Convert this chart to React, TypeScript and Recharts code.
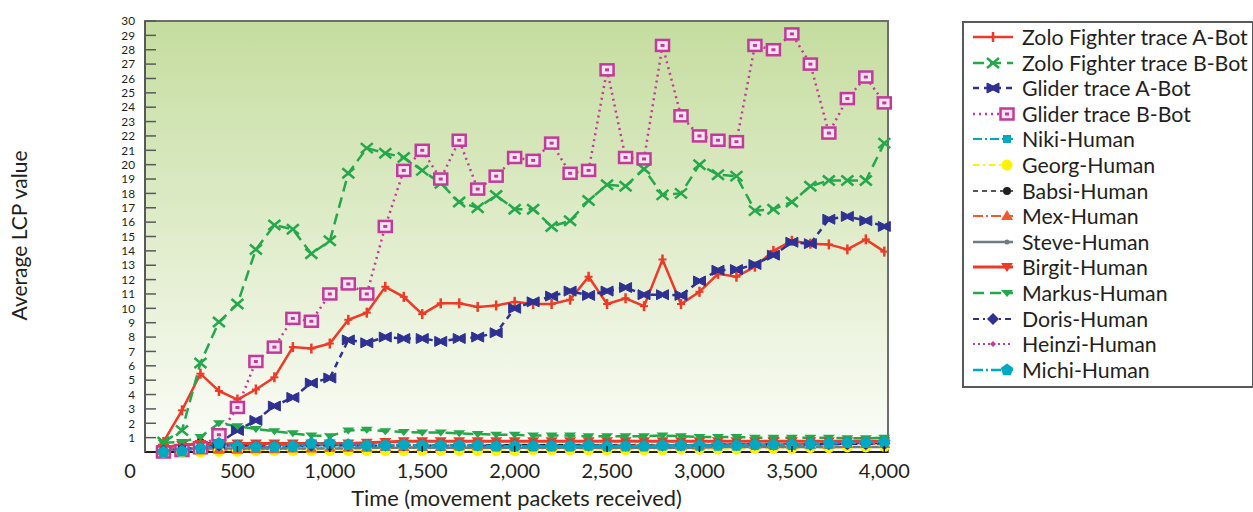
import React from 'react';
import { LineChart, Line, XAxis, YAxis, CartesianGrid, Legend, ReferenceArea } from 'recharts';

const xValues = [100, 200, 300, 400, 500, 600, 700, 800, 900, 1000, 1100, 1200, 1300, 1400, 1500, 1600, 1700, 1800, 1900, 2000, 2100, 2200, 2300, 2400, 2500, 2600, 2700, 2800, 2900, 3000, 3100, 3200, 3300, 3400, 3500, 3600, 3700, 3800, 3900, 4000];

const zoloA = [0.7, 2.9, 5.45, 4.25, 3.65, 4.35, 5.2, 7.3, 7.2, 7.55, 9.2, 9.7, 11.5, 10.8, 9.6, 10.35, 10.35, 10.1, 10.2, 10.45, 10.3, 10.3, 10.6, 12.2, 10.3, 10.7, 10.15, 13.4, 10.3, 11.15, 12.4, 12.2, 12.9, 14.0, 14.7, 14.5, 14.45, 14.1, 14.8, 13.95];
const zoloB = [0.7, 1.5, 6.2, 9.05, 10.3, 14.1, 15.8, 15.5, 13.8, 14.7, 19.4, 21.15, 20.8, 20.5, 19.6, 18.7, 17.4, 17.0, 17.85, 16.9, 16.9, 15.7, 16.1, 17.5, 18.6, 18.5, 19.7, 17.9, 18.0, 20.0, 19.3, 19.2, 16.8, 16.9, 17.4, 18.5, 18.9, 18.9, 18.9, 21.5];
const gliderA = [0.1, 0.2, 0.3, 0.6, 1.5, 2.2, 3.2, 3.8, 4.8, 5.15, 7.8, 7.6, 8.0, 7.9, 7.9, 7.7, 7.9, 8.0, 8.3, 10.0, 10.45, 10.85, 11.2, 10.9, 11.2, 11.45, 10.95, 10.95, 10.9, 11.9, 12.65, 12.7, 13.05, 13.7, 14.6, 14.5, 16.2, 16.4, 16.1, 15.7];
const gliderB = [0.0, 0.1, 0.3, 1.2, 3.1, 6.3, 7.3, 9.3, 9.1, 11.0, 11.7, 11.0, 15.7, 19.6, 21.0, 19.0, 21.7, 18.3, 19.2, 20.5, 20.3, 21.5, 19.4, 19.6, 26.6, 20.5, 20.4, 28.3, 23.4, 22.0, 21.7, 21.6, 28.3, 28.0, 29.1, 27.0, 22.2, 24.6, 26.1, 24.3];
const niki = [0.05, 0.15, 0.25, 0.4, 0.4, 0.35, 0.35, 0.4, 0.45, 0.45, 0.45, 0.45, 0.4, 0.45, 0.45, 0.45, 0.45, 0.5, 0.45, 0.5, 0.5, 0.45, 0.5, 0.5, 0.45, 0.5, 0.5, 0.5, 0.5, 0.5, 0.5, 0.55, 0.55, 0.5, 0.55, 0.55, 0.6, 0.6, 0.6, 0.6];
const georg = [0.0, 0.0, 0.0, 0.05, 0.05, 0.1, 0.1, 0.1, 0.1, 0.1, 0.1, 0.1, 0.1, 0.1, 0.1, 0.1, 0.1, 0.1, 0.1, 0.1, 0.15, 0.15, 0.15, 0.15, 0.15, 0.15, 0.15, 0.15, 0.2, 0.2, 0.2, 0.2, 0.25, 0.25, 0.25, 0.3, 0.3, 0.35, 0.35, 0.4];
const babsi = [0.1, 0.3, 0.7, 0.55, 0.5, 0.5, 0.5, 0.5, 0.5, 0.5, 0.5, 0.5, 0.5, 0.5, 0.5, 0.5, 0.5, 0.5, 0.5, 0.5, 0.5, 0.5, 0.5, 0.5, 0.5, 0.5, 0.5, 0.5, 0.5, 0.5, 0.55, 0.55, 0.55, 0.55, 0.55, 0.55, 0.6, 0.6, 0.6, 0.6];
const mex = [0.05, 0.1, 0.1, 0.15, 0.15, 0.2, 0.2, 0.25, 0.25, 0.3, 0.3, 0.3, 0.35, 0.35, 0.35, 0.35, 0.4, 0.4, 0.4, 0.4, 0.4, 0.4, 0.4, 0.45, 0.45, 0.45, 0.45, 0.45, 0.45, 0.45, 0.5, 0.5, 0.5, 0.5, 0.5, 0.5, 0.5, 0.55, 0.55, 0.55];
const steve = [0.2, 0.25, 0.25, 0.25, 0.25, 0.25, 0.25, 0.25, 0.25, 0.25, 0.25, 0.3, 0.3, 0.3, 0.3, 0.3, 0.3, 0.3, 0.3, 0.3, 0.3, 0.3, 0.3, 0.3, 0.3, 0.3, 0.3, 0.3, 0.3, 0.3, 0.35, 0.35, 0.35, 0.35, 0.35, 0.35, 0.35, 0.35, 0.35, 0.35];
const birgit = [0.3, 0.5, 0.55, 0.55, 0.6, 0.6, 0.6, 0.6, 0.6, 0.6, 0.6, 0.65, 0.7, 0.75, 0.75, 0.75, 0.75, 0.75, 0.75, 0.75, 0.75, 0.75, 0.75, 0.75, 0.75, 0.75, 0.75, 0.75, 0.75, 0.75, 0.75, 0.75, 0.75, 0.75, 0.75, 0.75, 0.75, 0.75, 0.75, 0.75];
const markus = [0.65, 0.7, 1.05, 2.0, 1.8, 1.6, 1.45, 1.3, 1.15, 1.1, 1.5, 1.55, 1.45, 1.4, 1.35, 1.35, 1.3, 1.25, 1.2, 1.2, 1.15, 1.15, 1.15, 1.1, 1.1, 1.1, 1.1, 1.15, 1.1, 1.05, 1.05, 1.05, 1.0, 1.0, 1.0, 1.0, 1.0, 0.95, 0.95, 1.0];
const doris = [0.1, 0.2, 0.3, 0.45, 0.45, 0.4, 0.4, 0.4, 0.45, 0.45, 0.45, 0.45, 0.45, 0.45, 0.45, 0.45, 0.45, 0.45, 0.45, 0.45, 0.45, 0.45, 0.45, 0.45, 0.45, 0.45, 0.45, 0.45, 0.45, 0.45, 0.5, 0.5, 0.5, 0.5, 0.5, 0.5, 0.55, 0.55, 0.55, 0.6];
const heinzi = [0.05, 0.1, 0.25, 0.5, 0.4, 0.35, 0.35, 0.4, 0.55, 0.55, 0.5, 0.45, 0.45, 0.5, 0.45, 0.45, 0.45, 0.45, 0.4, 0.4, 0.4, 0.4, 0.4, 0.45, 0.4, 0.4, 0.4, 0.45, 0.45, 0.45, 0.45, 0.45, 0.5, 0.5, 0.5, 0.55, 0.6, 0.65, 0.65, 0.7];
const michi = [0.0, 0.05, 0.25, 0.6, 0.4, 0.35, 0.35, 0.4, 0.6, 0.6, 0.5, 0.45, 0.45, 0.5, 0.45, 0.45, 0.45, 0.45, 0.4, 0.4, 0.4, 0.4, 0.4, 0.45, 0.4, 0.4, 0.4, 0.45, 0.45, 0.45, 0.45, 0.45, 0.5, 0.5, 0.5, 0.55, 0.6, 0.65, 0.65, 0.7];

const xTicks = [0, 500, 1000, 1500, 2000, 2500, 3000, 3500, 4000];
const yTicks = [1, 2, 3, 4, 5, 6, 7, 8, 9, 10, 11, 12, 13, 14, 15, 16, 17, 18, 19, 20, 21, 22, 23, 24, 25, 26, 27, 28, 29, 30];

const seriesNames = ['Zolo Fighter trace A-Bot', 'Zolo Fighter trace B-Bot', 'Glider trace A-Bot', 'Glider trace B-Bot', 'Niki-Human', 'Georg-Human', 'Babsi-Human', 'Mex-Human', 'Steve-Human', 'Birgit-Human', 'Markus-Human', 'Doris-Human', 'Heinzi-Human', 'Michi-Human'];
const seriesValues = [zoloA, zoloB, gliderA, gliderB, niki, georg, babsi, mex, steve, birgit, markus, doris, heinzi, michi];

const RED = '#ee3a26';
const GREEN = '#24a84b';
const NAVY = '#2e3192';
const MAGENTA = '#c23a9b';
const CYAN = '#00a8c2';
const YELLOW = '#fff200';
const BLACK = '#231f20';
const ORANGE = '#f15a29';
const GRAY = '#6d7b86';

type Shape = 'plus' | 'x' | 'bowtie' | 'sq' | 'smallsq' | 'circle' | 'dot' | 'triUp' | 'star' | 'triDown' | 'triDownSmall' | 'diamond' | 'smallDiamond' | 'pentagon';

const styles: { color: string; dash?: string; width: number; shape: Shape; legendMarkerRight: boolean }[] = [
  { color: RED, width: 2.5, shape: 'plus', legendMarkerRight: false },
  { color: GREEN, dash: '11 6', width: 2.5, shape: 'x', legendMarkerRight: false },
  { color: NAVY, dash: '6 5', width: 2.5, shape: 'bowtie', legendMarkerRight: false },
  { color: MAGENTA, dash: '2 4', width: 2.5, shape: 'sq', legendMarkerRight: true },
  { color: CYAN, dash: '9 3 2 3', width: 2, shape: 'smallsq', legendMarkerRight: true },
  { color: YELLOW, dash: '6 4 2 4', width: 2, shape: 'circle', legendMarkerRight: true },
  { color: BLACK, dash: '5 4', width: 1.5, shape: 'dot', legendMarkerRight: true },
  { color: ORANGE, dash: '10 3 2 3', width: 2, shape: 'triUp', legendMarkerRight: true },
  { color: GRAY, width: 2.5, shape: 'star', legendMarkerRight: true },
  { color: RED, width: 3, shape: 'triDown', legendMarkerRight: true },
  { color: GREEN, dash: '11 6', width: 2.5, shape: 'triDownSmall', legendMarkerRight: true },
  { color: NAVY, dash: '6 4 2 4', width: 2, shape: 'diamond', legendMarkerRight: false },
  { color: MAGENTA, dash: '2 3', width: 2, shape: 'smallDiamond', legendMarkerRight: false },
  { color: CYAN, dash: '10 3 2 3', width: 2.5, shape: 'pentagon', legendMarkerRight: true },
];

const keys = seriesNames.map((_, i) => `s${i}`);

const data = xValues.map((x, i) => {
  const row: Record<string, number> = { x };
  seriesValues.forEach((vals, j) => {
    row[keys[j]] = vals[i];
  });
  return row;
});

function marker(shape: Shape, color: string, cx: number, cy: number, k?: string | number) {
  switch (shape) {
    case 'plus':
      return (
        <g key={k}>
          <line x1={cx} x2={cx} y1={cy - 5} y2={cy + 5} stroke={color} strokeWidth={2.5} />
          <line x1={cx - 4} x2={cx + 4} y1={cy} y2={cy} stroke={color} strokeWidth={2} />
        </g>
      );
    case 'x':
      return (
        <g key={k}>
          <line x1={cx - 6} x2={cx + 6} y1={cy - 5} y2={cy + 5} stroke={color} strokeWidth={2.5} />
          <line x1={cx - 6} x2={cx + 6} y1={cy + 5} y2={cy - 5} stroke={color} strokeWidth={2.5} />
        </g>
      );
    case 'bowtie':
      return (
        <polygon key={k} points={`${cx - 6},${cy - 5} ${cx},${cy - 2} ${cx + 6},${cy - 5} ${cx + 6},${cy + 5} ${cx},${cy + 2} ${cx - 6},${cy + 5}`} fill={color} stroke={color} strokeWidth={1} />
      );
    case 'sq':
      return (
        <g key={k}>
          <rect x={cx - 6.5} y={cy - 5.5} width={13} height={11} fill="#f6e4ef" stroke={color} strokeWidth={2.5} />
          <rect x={cx - 2} y={cy - 1.5} width={4} height={3} fill={color} />
        </g>
      );
    case 'smallsq':
      return <rect key={k} x={cx - 4} y={cy - 4} width={8} height={8} fill={color} />;
    case 'circle':
      return <circle key={k} cx={cx} cy={cy} r={5.5} fill={color} />;
    case 'dot':
      return <circle key={k} cx={cx} cy={cy} r={4} fill={color} />;
    case 'triUp':
      return <polygon key={k} points={`${cx},${cy - 6} ${cx + 6},${cy + 4} ${cx - 6},${cy + 4}`} fill={color} />;
    case 'star':
      return <circle key={k} cx={cx} cy={cy} r={2.5} fill={color} />;
    case 'triDown':
      return <polygon key={k} points={`${cx - 6},${cy - 4} ${cx + 6},${cy - 4} ${cx},${cy + 5}`} fill={color} />;
    case 'triDownSmall':
      return <polygon key={k} points={`${cx - 6},${cy - 3} ${cx + 6},${cy - 3} ${cx},${cy + 4}`} fill={color} />;
    case 'diamond':
      return <polygon key={k} points={`${cx},${cy - 6} ${cx + 6},${cy} ${cx},${cy + 6} ${cx - 6},${cy}`} fill={color} />;
    case 'smallDiamond':
      return <polygon key={k} points={`${cx},${cy - 3} ${cx + 3},${cy} ${cx},${cy + 3} ${cx - 3},${cy}`} fill={color} />;
    case 'pentagon': {
      const r = 6.5;
      const pts = [0, 1, 2, 3, 4]
        .map((i) => {
          const a = -Math.PI / 2 + (i * 2 * Math.PI) / 5;
          return `${cx + r * Math.cos(a)},${cy + r * Math.sin(a)}`;
        })
        .join(' ');
      return <polygon key={k} points={pts} fill={color} />;
    }
    default:
      return <g key={k} />;
  }
}

const FONT = 'Lato, "Open Sans", sans-serif';
const TEXT = '#231f20';

const YTick = (props: any) => {
  const { x, y, payload } = props;
  return (
    <g>
      <line x1={x + 10} x2={x + 21} y1={y} y2={y} stroke="#58595b" strokeWidth={1.5} />
      <text x={x} y={y} dy="0.36em" textAnchor="end" fontFamily={FONT} fontSize={11.8} fill={TEXT}>
        {payload.value}
      </text>
    </g>
  );
};

const XTick = (props: any) => {
  const { x, y, payload } = props;
  const v = payload.value as number;
  const label = v.toLocaleString('en-US');
  if (v === 0) {
    return (
      <text x={x - 15} y={y} dy="0.75em" textAnchor="middle" fontFamily={FONT} fontSize={20} fill={TEXT}>
        {label}
      </text>
    );
  }
  return (
    <g>
      <line x1={x} x2={x} y1={y - 11} y2={y - 17} stroke="#231f20" strokeWidth={1.5} />
      <text x={x} y={y} dy="0.75em" textAnchor="middle" fontFamily={FONT} fontSize={20} fill={TEXT}>
        {label}
      </text>
    </g>
  );
};

const LegendBox = () => (
  <div
    style={{
      position: 'relative',
      width: 292,
      height: 367,
      boxSizing: 'border-box',
      border: '2px solid #58595b',
      background: '#ffffff',
      fontFamily: FONT,
      fontSize: 21.3,
      color: TEXT,
    }}
  >
    {seriesNames.map((name, i) => {
      const st = styles[i];
      return (
        <div key={name} style={{ position: 'absolute', left: 0, top: 1 + i * 25.6, height: 26, display: 'flex', alignItems: 'center' }}>
          <svg width={58} height={26} style={{ display: 'block' }}>
            <line x1={9} x2={49} y1={13} y2={13} stroke={st.color} strokeWidth={st.width} strokeDasharray={st.dash} />
            {marker(st.shape, st.color, st.legendMarkerRight ? 43 : 29, 13)}
          </svg>
          <span style={{ whiteSpace: 'nowrap', lineHeight: '26px' }}>{name}</span>
        </div>
      );
    })}
  </div>
);

export default function App() {
  return (
    <div style={{ position: 'absolute', left: 0, top: 0, width: 1253, height: 512, background: '#fff' }}>
      <LineChart width={1253} height={512} data={data} margin={{ top: 21, right: 365, bottom: 0, left: 0 }}>
        <defs>
          <linearGradient id="bgGrad" x1="0" y1="0" x2="0" y2="1">
            <stop offset="0%" stopColor="#c5dd9f" />
            <stop offset="55%" stopColor="#e3eed0" />
            <stop offset="100%" stopColor="#fcfdf9" />
          </linearGradient>
        </defs>
        <CartesianGrid horizontal={false} vertical={false} fill="url(#bgGrad)" />
        <XAxis
          type="number"
          dataKey="x"
          domain={[0, 4020]}
          ticks={xTicks}
          interval={0}
          height={60}
          tickSize={0}
          tickMargin={11}
          tick={<XTick />}
          axisLine={{ stroke: '#231f20', strokeWidth: 2 }}
          label={{
            content: (p: any) => {
              const vb = p.viewBox || { x: 145, y: 452, width: 743, height: 60 };
              return (
                <text x={vb.x + vb.width / 2} y={vb.y + 45} textAnchor="middle" dominantBaseline="central" fontFamily={FONT} fontSize={21.8} fill={TEXT}>
                  Time (movement packets received)
                </text>
              );
            },
          }}
        />
        <YAxis
          type="number"
          domain={[0, 30]}
          ticks={yTicks}
          interval={0}
          width={145}
          tickSize={0}
          tickMargin={10}
          tick={<YTick />}
          axisLine={{ stroke: '#58595b', strokeWidth: 2 }}
          label={{
            content: (p: any) => {
              const vb = p.viewBox || { x: 0, y: 21, width: 145, height: 431 };
              const cx = vb.x + 18;
              const cy = vb.y + vb.height / 2 - 1;
              return (
                <text x={cx} y={cy} transform={`rotate(-90, ${cx}, ${cy})`} textAnchor="middle" dominantBaseline="central" fontFamily={FONT} fontSize={21} fill={TEXT}>
                  Average LCP value
                </text>
              );
            },
          }}
        />
        <ReferenceArea x1={0} x2={4020} y1={0} y2={30} fill="none" stroke="#6d6e71" strokeWidth={2} />
        {keys.map((k, i) => {
          const st = styles[i];
          return (
            <Line
              key={k}
              dataKey={k}
              name={seriesNames[i]}
              type="linear"
              stroke={st.color}
              strokeWidth={st.width}
              strokeDasharray={st.dash}
              isAnimationActive={false}
              dot={(p: any) => marker(st.shape, st.color, p.cx, p.cy, `${k}-${p.index}`)}
              activeDot={false}
            />
          );
        })}
        <Legend
          layout="vertical"
          align="center"
          verticalAlign="middle"
          content={() => <LegendBox />}
          wrapperStyle={{ left: 962, top: 21, width: 292, height: 367 }}
        />
      </LineChart>
    </div>
  );
}
